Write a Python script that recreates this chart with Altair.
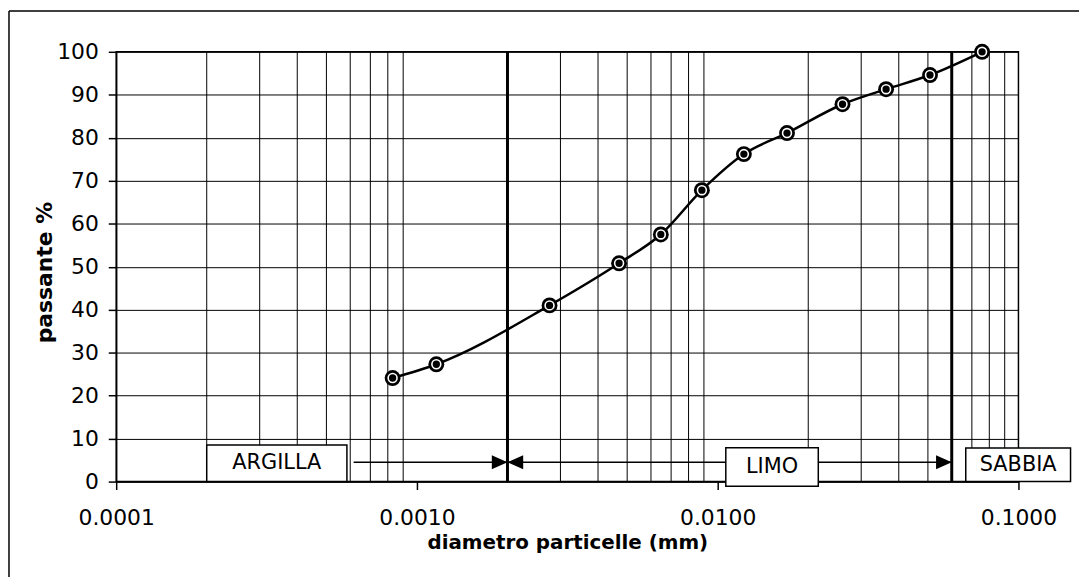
import altair as alt
import pandas as pd
import math

# ---- data ----
diam = [0.00083, 0.00116, 0.00276, 0.00470, 0.00647, 0.00886, 0.01222,
        0.0170, 0.0260, 0.0363, 0.0508, 0.0757]
passante = [24.1, 27.3, 41.0, 50.8, 57.5, 67.8, 76.2, 81.1, 87.8, 91.3, 94.6, 100.0]

x_ticks = [0.0001, 0.001, 0.01, 0.1]
y_ticks = [0, 10, 20, 30, 40, 50, 60, 70, 80, 90, 100]
grid_x = [m * 10.0 ** e for e in (-4, -3, -2) for m in range(2, 10)]
bounds = [0.002, 0.06]

zone_labels = ["ARGILLA", "LIMO", "SABBIA"]
zone_x0 = [0.0002, 0.01064, 0.0668]
zone_x1 = [0.000585, 0.0216, 0.149]
zone_y0 = [0.0, -1.1, 0.0]
zone_y1 = [8.5, 7.9, 7.8]
zone_ty = [4.4, 3.4, 3.8]

arrow_x0 = [0.000616, 0.002, 0.0216]
arrow_x1 = [0.002, 0.01064, 0.06]
arrow_y = [4.5, 4.5, 4.5]
head_x = [0.002, 0.002, 0.06]
head_shape = ["M0,0L-1,-0.45L-1,0.45Z", "M0,0L1,-0.45L1,0.45Z", "M0,0L-1,-0.45L-1,0.45Z"]

FONT = "DejaVu Sans"
W, H = 909, 433

curve = pd.DataFrame({"d": diam, "p": passante})
grid_df = pd.DataFrame({"g": grid_x})
bound_df = pd.DataFrame({"b": bounds})
zones = pd.DataFrame({
    "label": zone_labels, "x0": zone_x0, "x1": zone_x1,
    "y0": zone_y0, "y1": zone_y1, "ty": zone_ty,
    "tx": [math.sqrt(a * b) for a, b in zip(zone_x0, zone_x1)],
})
arrows = pd.DataFrame({"a0": arrow_x0, "a1": arrow_x1, "ay": arrow_y})
heads = pd.DataFrame({"hx": head_x, "hy": arrow_y, "shape": head_shape})

xscale = alt.Scale(type="log", domain=[0.0001, 0.1], nice=False)
yscale = alt.Scale(domain=[0, 100], nice=False, zero=False)

xaxis = alt.Axis(values=x_ticks, format=".4f", grid=False, tickSize=8, tickWidth=1.5,
                 labelFontSize=22, labelPadding=35, labelBaseline="alphabetic",
                 labelFlush=False, labelOverlap=False,
                 title="diametro particelle (mm)", titleFontSize=20, titleFontWeight="bold",
                 titleBaseline="alphabetic", titleX=W / 2, titleY=67)
yaxis = alt.Axis(values=y_ticks, grid=True, tickSize=8, tickWidth=1.5,
                 labelFontSize=22, labelPadding=10, labelFlush=False,
                 title="passante %", titleFontSize=22, titleFontWeight="bold",
                 titleBaseline="alphabetic", titleAngle=270, titleX=-65, titleY=222)


def X(field):
    return alt.X(f"{field}:Q", scale=xscale, axis=xaxis)


def Y(field):
    return alt.Y(f"{field}:Q", scale=yscale, axis=yaxis)


grid_rules = alt.Chart(grid_df).mark_rule(color="black", strokeWidth=1).encode(
    x=X("g"), y=alt.datum(0), y2=alt.datum(100))

bound_rules = alt.Chart(bound_df).mark_rule(color="black", strokeWidth=3).encode(
    x=X("b"), y=alt.datum(0), y2=alt.datum(100))

line = alt.Chart(curve).mark_line(color="black", strokeWidth=2.5, interpolate="monotone").encode(
    x=X("d"), y=Y("p"))

pts_outer = alt.Chart(curve).mark_point(shape="circle", filled=True, color="black",
                                        size=256, opacity=1).encode(x=X("d"), y=Y("p"))
pts_inner = alt.Chart(curve).mark_point(shape="circle", filled=False, color="white",
                                        size=80, strokeWidth=1.6, opacity=1).encode(x=X("d"), y=Y("p"))

arrow_lines = alt.Chart(arrows).mark_rule(color="black", strokeWidth=1.5).encode(
    x=X("a0"), x2="a1:Q", y=Y("ay"))

arrow_heads = alt.Chart(heads).mark_point(filled=True, color="black", size=1000, opacity=1).encode(
    x=X("hx"), y=Y("hy"), shape=alt.Shape("shape:N", scale=None, legend=None))

boxes = alt.Chart(zones).mark_rect(fill="white", stroke="black", strokeWidth=1.5, clip=False).encode(
    x=X("x0"), x2="x1:Q", y=Y("y0"), y2="y1:Q")

box_text = alt.Chart(zones).mark_text(font=FONT, fontSize=21, color="black", baseline="middle",
                                      align="center").encode(
    x=X("tx"), y=Y("ty"), text="label:N")

one = pd.DataFrame({"k": [0]})
frame_left = alt.Chart(one).mark_rule(color="black", strokeWidth=1.5).encode(
    x=alt.value(-108), y=alt.value(-41), y2=alt.value(H + 96))
frame_top = alt.Chart(one).mark_rule(color="black", strokeWidth=1.5).encode(
    x=alt.value(-108), x2=alt.value(W + 61), y=alt.value(-41))

chart = alt.layer(
    grid_rules, bound_rules, line, pts_outer, pts_inner,
    arrow_lines, arrow_heads, boxes, box_text, frame_left, frame_top
).properties(
    width=W, height=H,
    autosize=alt.AutoSizeParams(type="none"),
    padding={"left": 109, "top": 42, "right": 61, "bottom": 96},
    background="white",
).configure_view(
    stroke="black", strokeWidth=1.5
).configure_axis(
    labelFont=FONT, titleFont=FONT, labelColor="black", titleColor="black",
    tickColor="black", domainColor="black", domainWidth=1.5,
    gridColor="black", gridOpacity=1, gridWidth=1,
)

chart.save("out.html", embed_options={"renderer": "svg", "actions": False})
